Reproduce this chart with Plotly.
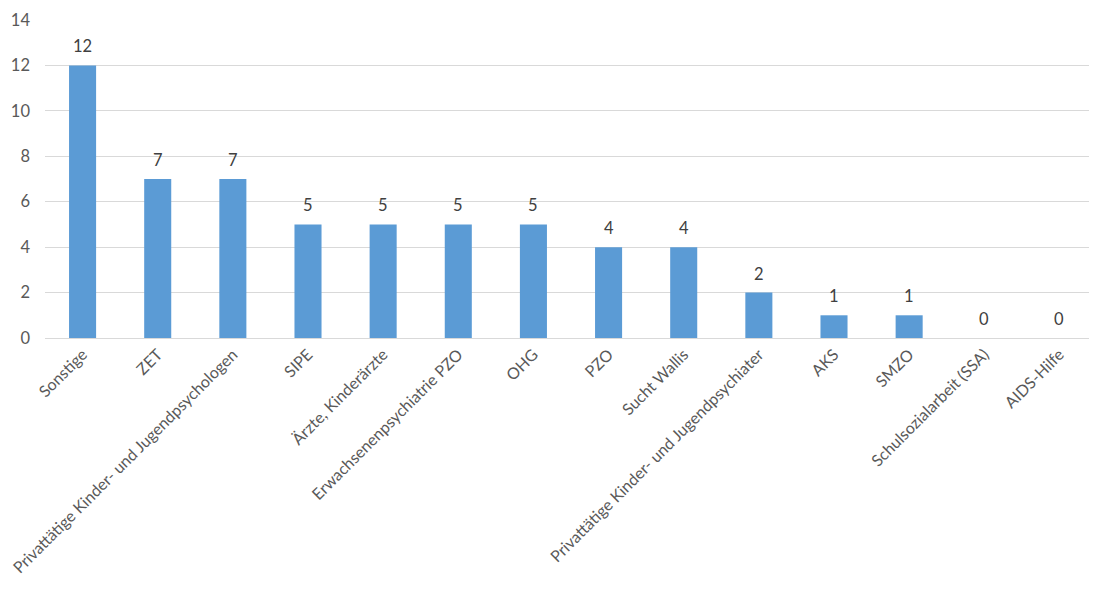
import plotly.graph_objects as go

categories = ["Sonstige", "ZET", "Privattätige Kinder- und Jugendpsychologen", "SIPE",
              "Ärzte, Kinderärzte", "Erwachsenenpsychiatrie PZO", "OHG", "PZO",
              "Sucht Wallis", "Privattätige Kinder- und Jugendpsychiater", "AKS", "SMZO",
              "Schulsozialarbeit (SSA)", "AIDS-Hilfe"]
values = [12, 7, 7, 5, 5, 5, 5, 4, 4, 2, 1, 1, 0, 0]
y_ticks = [0, 2, 4, 6, 8, 10, 12, 14]

font_family = "Lato, 'Open Sans', sans-serif"
text_color = "#595959"

fig = go.Figure(go.Bar(
    x=categories, y=values,
    marker=dict(color="#5B9BD5", line=dict(width=0)),
    cliponaxis=False,
))

for c, v in zip(categories, values):
    fig.add_annotation(x=c, y=v, text=str(v), showarrow=False, yshift=19,
                       font=dict(family=font_family, size=16.5, color="#404040"))

fig.update_layout(
    width=1097, height=596,
    margin=dict(l=37, r=8, t=12, b=266),
    plot_bgcolor="white", paper_bgcolor="white",
    bargap=0.64,
    showlegend=False,
    font=dict(family=font_family, size=16.5, color=text_color),
)
fig.update_xaxes(
    tickangle=-45, showgrid=False, showline=True, linecolor="#d9d9d9", linewidth=1,
    tickfont=dict(family=font_family, size=16, color=text_color),
    ticks="", ticklabelstandoff=0, automargin=False,
)
fig.update_yaxes(
    range=[0, 14], tickvals=y_ticks, showgrid=True, gridcolor="#d9d9d9", gridwidth=1,
    zeroline=False, showline=False, automargin=False,
    tickfont=dict(family=font_family, size=16.5, color=text_color),
    ticklabelstandoff=14,
)

fig.write_html("out.html")
